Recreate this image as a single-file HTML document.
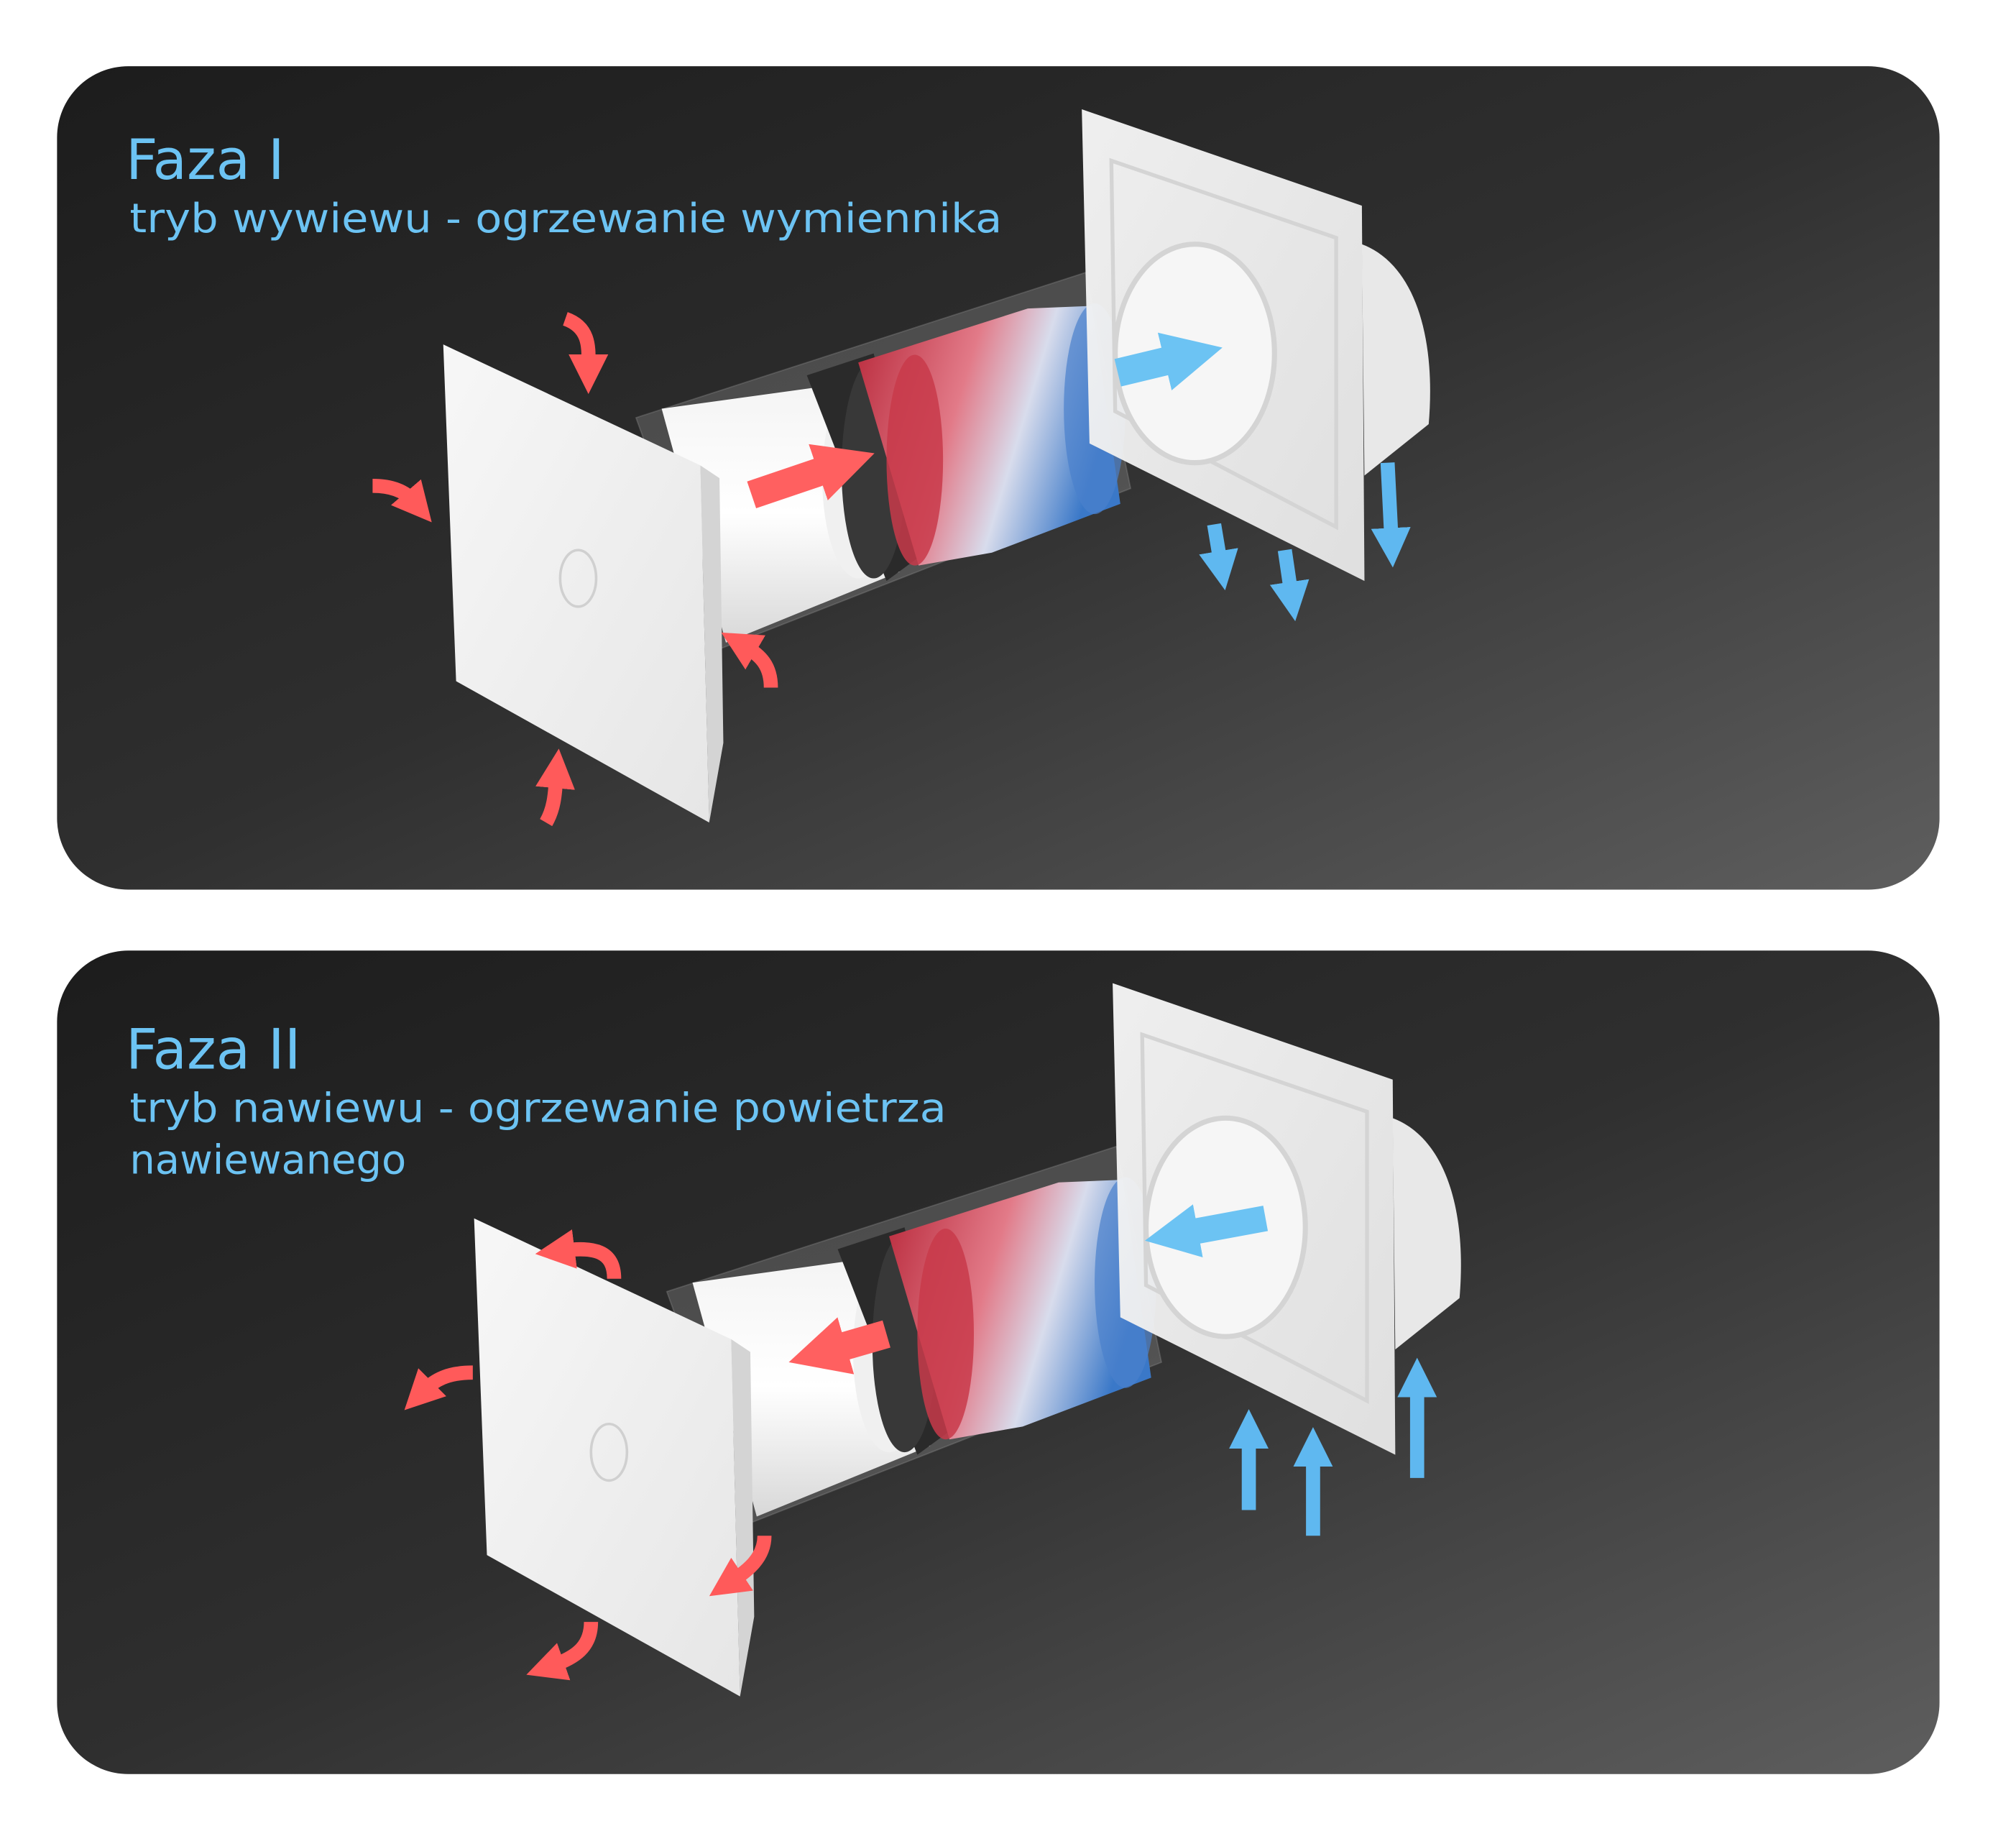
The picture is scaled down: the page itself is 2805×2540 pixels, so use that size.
<!DOCTYPE html>
<html><head><meta charset="utf-8"><style>
html,body{margin:0;padding:0;background:#fff;width:2805px;height:2540px;overflow:hidden}
svg{display:block}
text{font-family:"DejaVu Sans","Liberation Sans",sans-serif;fill:#6cc3f3}
</style></head><body>
<svg width="2805" height="2540" viewBox="0 0 1555 1408" xmlns="http://www.w3.org/2000/svg">
<defs>
<linearGradient id="bg" x1="0" y1="0" x2="1" y2="1">
<stop offset="0" stop-color="#1c1c1c"/><stop offset="0.5" stop-color="#2f2f2f"/><stop offset="1" stop-color="#5e5e5e"/></linearGradient>
<linearGradient id="hx" x1="0" y1="0" x2="1" y2="0.3">
<stop offset="0" stop-color="#b8283a"/><stop offset="0.45" stop-color="#e27a88"/><stop offset="0.7" stop-color="#d8dcec"/><stop offset="1" stop-color="#3a78c8"/></linearGradient>
<linearGradient id="wc" x1="0" y1="0" x2="0" y2="1">
<stop offset="0" stop-color="#f4f4f4"/><stop offset="0.5" stop-color="#ffffff"/><stop offset="1" stop-color="#d8d8d8"/></linearGradient>
<linearGradient id="pl" x1="0" y1="0" x2="1" y2="1">
<stop offset="0" stop-color="#f7f7f7"/><stop offset="1" stop-color="#e6e6e6"/></linearGradient>
<marker id="mr" viewBox="0 0 10 10" refX="3" refY="5" markerWidth="2.8" markerHeight="2.8" orient="auto"><path d="M0,0L10,5L0,10z" fill="#ff5a5a"/></marker>
<marker id="mb" viewBox="0 0 10 10" refX="3" refY="5" markerWidth="2.8" markerHeight="2.8" orient="auto"><path d="M0,0L10,5L0,10z" fill="#5fb8f0"/></marker>
<marker id="mR" viewBox="0 0 10 10" refX="3" refY="5" markerWidth="2.1" markerHeight="2.1" orient="auto"><path d="M0,0L10,5L0,10z" fill="#ff6060"/></marker>
<marker id="mB" viewBox="0 0 10 10" refX="3" refY="5" markerWidth="2.1" markerHeight="2.1" orient="auto"><path d="M0,0L10,5L0,10z" fill="#6cc3f3"/></marker>
<g id="dev">
<polygon points="495,325 845,212 880,380 560,505" fill="#ffffff" fill-opacity="0.16" stroke="#999" stroke-opacity="0.3"/>
<polygon points="515,318 660,298 700,445 565,500" fill="url(#wc)"/>
<ellipse cx="668" cy="372" rx="28" ry="78" fill="#f0f0f0"/>
<polygon points="628,292 680,275 720,430 690,452" fill="#2a2a2a"/>
<ellipse cx="680" cy="365" rx="25" ry="85" fill="#383838"/>
<polygon points="668,282 800,240 850,238 872,392 772,430 715,440" fill="url(#hx)"/>
<ellipse cx="712" cy="358" rx="22" ry="82" fill="#c83a4a" opacity="0.85"/>
<ellipse cx="852" cy="318" rx="24" ry="82" fill="#4a80cc" opacity="0.7"/>
<polygon points="842,85 1060,160 1062,452 848,345" fill="url(#pl)" opacity="0.96"/>
<polygon points="865,125 1040,185 1040,410 868,320" fill="none" stroke="#d4d4d4" stroke-width="3"/>
<ellipse cx="930" cy="275" rx="62" ry="85" fill="#f6f6f6" stroke="#d4d4d4" stroke-width="4"/>
<path d="M1060,190 C1100,205 1118,260 1112,330 L1062,370 Z" fill="#e8e8e8"/>
<polygon points="545,362 560,372 563,578 552,640" fill="#d4d4d4"/>
<polygon points="345,268 545,362 552,640 355,530" fill="url(#pl)"/>
<ellipse cx="450" cy="450" rx="14" ry="22" fill="none" stroke="#d0d0d0" stroke-width="2"/>
</g>
</defs>
<rect x="44" y="51" width="1452" height="635" rx="55" fill="url(#bg)"/>
<rect x="44" y="733" width="1452" height="635" rx="55" fill="url(#bg)"/>
<text x="97" y="138" font-size="43">Faza I</text>
<text x="100" y="179" font-size="31" textLength="673" lengthAdjust="spacingAndGlyphs">tryb wywiewu - ogrzewanie wymiennika</text>
<text x="97" y="824" font-size="43">Faza II</text>
<text x="100" y="865" font-size="31" textLength="630" lengthAdjust="spacingAndGlyphs">tryb nawiewu - ogrzewanie powietrza</text>
<text x="100" y="905" font-size="31">nawiewanego</text>
<g transform="scale(0.991)">
<use href="#dev"/>
<use href="#dev" transform="translate(24,680)"/>
<g fill="none" stroke-linecap="butt">
<path d="M585,385 L650,363" stroke="#ff6060" stroke-width="22" marker-end="url(#mR)"/>
<path d="M440,248 C460,255 458,272 458,285" stroke="#ff5a5a" stroke-width="11" marker-end="url(#mr)"/>
<path d="M290,378 C306,378 316,383 322,390" stroke="#ff5a5a" stroke-width="11" marker-end="url(#mr)"/>
<path d="M600,535 C600,518 592,510 580,503" stroke="#ff5a5a" stroke-width="11" marker-end="url(#mr)"/>
<path d="M425,640 C432,628 432,615 433,604" stroke="#ff5a5a" stroke-width="11" marker-end="url(#mr)"/>
<path d="M870,290 L920,278" stroke="#6cc3f3" stroke-width="22" marker-end="url(#mB)"/>
<path d="M945,408 L950,438" stroke="#5fb8f0" stroke-width="11" marker-end="url(#mb)"/>
<path d="M1000,428 L1005,462" stroke="#5fb8f0" stroke-width="11" marker-end="url(#mb)"/>
<path d="M1080,360 L1083,420" stroke="#5fb8f0" stroke-width="11" marker-end="url(#mb)"/>
<path d="M690,1038 L645,1051" stroke="#ff6060" stroke-width="22" marker-end="url(#mR)"/>
<path d="M368,1068 C348,1068 338,1074 330,1082" stroke="#ff5a5a" stroke-width="11" marker-end="url(#mr)"/>
<path d="M478,995 C478,973 462,970 438,973" stroke="#ff5a5a" stroke-width="11" marker-end="url(#mr)"/>
<path d="M595,1195 C595,1212 582,1222 570,1230" stroke="#ff5a5a" stroke-width="11" marker-end="url(#mr)"/>
<path d="M460,1262 C460,1282 447,1290 430,1296" stroke="#ff5a5a" stroke-width="11" marker-end="url(#mr)"/>
<path d="M985,948 L920,960" stroke="#6cc3f3" stroke-width="20" marker-end="url(#mB)"/>
<path d="M972,1175 L972,1118" stroke="#5fb8f0" stroke-width="11" marker-end="url(#mb)"/>
<path d="M1022,1195 L1022,1132" stroke="#5fb8f0" stroke-width="11" marker-end="url(#mb)"/>
<path d="M1103,1150 L1103,1078" stroke="#5fb8f0" stroke-width="11" marker-end="url(#mb)"/>
</g>
</g>
</svg>
</body></html>
